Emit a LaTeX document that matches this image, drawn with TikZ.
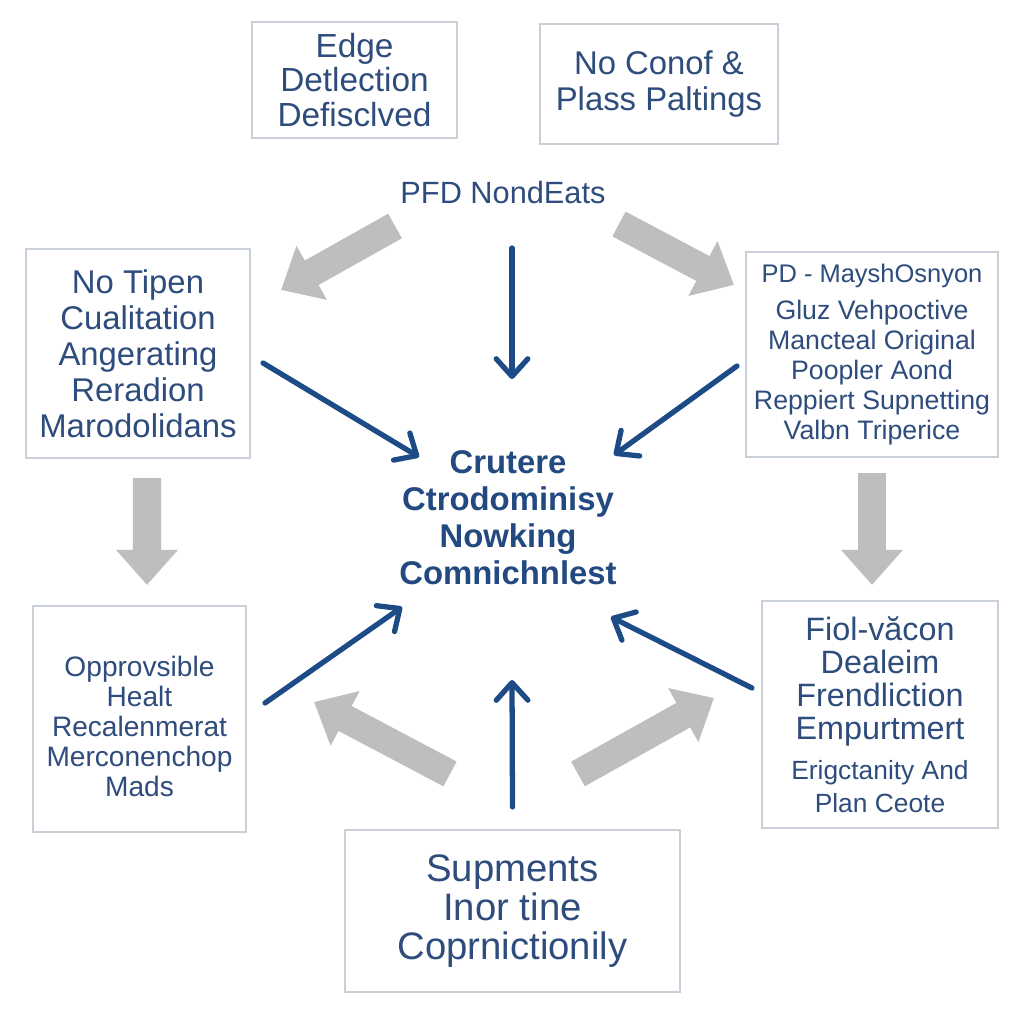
\documentclass[tikz,border=0pt]{standalone}
\usepackage{fontspec}
\setmainfont{Liberation Sans}
\usepackage{tikz}
\usetikzlibrary{arrows.meta,calc}
\usepackage{xcolor}
\definecolor{txtblue}{HTML}{2E4C7C}
\definecolor{midblue}{HTML}{234A80}
\definecolor{arrblue}{HTML}{1D4B86}
\definecolor{boxline}{HTML}{C9D0D9}
\definecolor{arrgrey}{HTML}{BEBEBE}

\begin{document}
\begin{tikzpicture}[x=0.02cm,y=-0.02cm,
	box/.style={draw=boxline,line width=1.2pt,fill=white,text=txtblue,align=center,inner sep=0pt},
	plaintxt/.style={text=txtblue,align=center,inner sep=0pt},
	bluearr/.style={draw=arrblue,line width=3pt,line cap=round,line join=round,-{Straight Barb[length=10pt,width=18pt,round]}},
	greyarr/.style={draw=arrgrey,line width=16pt,-{Triangle[length=20pt,width=34pt]}}]
	\fill[white] (0,0) rectangle (1024,1024);
	\useasboundingbox (0,0) rectangle (1024,1024);
	\node[box,minimum width=4.1cm,minimum height=2.32cm,font=\fontsize{19}{19.6}\selectfont] (edge) at (354.5,80) {Edge\\Detlection\\Defisclved};
	\node[box,minimum width=4.76cm,minimum height=2.4cm,font=\fontsize{18.7}{20}\selectfont] (conof) at (659,84) {No Conof \&\\Plass Paltings};
	\node[plaintxt,font=\fontsize{17.5}{19}\selectfont] (pfd) at (503,193) {PFD NondEats};
	\node[box,minimum width=4.48cm,minimum height=4.18cm,font=\fontsize{18.7}{20.5}\selectfont] (tipen) at (138,353.5) {No Tipen\\Cualitation\\Angerating\\Reradion\\Marodolidans};
	\node[box,minimum width=5.04cm,minimum height=4.1cm,font=\fontsize{15.2}{17}\selectfont] (maysh) at (872,354.5) {{\fontsize{14.5}{17}\selectfont PD - MayshOsnyon}\\[4pt]Gluz Vehpoctive\\Mancteal Original\\Poopler Aond\\Reppiert Supnetting\\Valbn Triperice};
	\node[plaintxt,text=midblue,font=\bfseries\fontsize{18.7}{21}\selectfont] (crux) at (508,518) {Crutere\\Ctrodominisy\\Nowking\\Comnichnlest};
	\node[box,minimum width=4.26cm,minimum height=4.52cm,font=\fontsize{16}{17}\selectfont] (oppr) at (139.5,719) {\rule{0pt}{20pt}Opprovsible\\Healt\\Recalenmerat\\Merconenchop\\Mads};
	\node[box,minimum width=4.72cm,minimum height=4.54cm,font=\fontsize{18.4}{18.8}\selectfont] (fiol) at (880,714.5) {Fiol-văcon\\Dealeim\\Frendliction\\Empurtmert\\[4pt]{\fontsize{15}{15.5}\selectfont Erigctanity And}\\{\fontsize{15}{15.5}\selectfont Plan Ceote}};
	\node[box,minimum width=6.7cm,minimum height=3.24cm,font=\fontsize{21.8}{22.2}\selectfont] (supm) at (512.5,911) {Supments\\Inor tine\\Coprnictionily};
	\draw[greyarr] ($(pfd)+(-108,33)$) -- ($(tipen.north east)+(30,42)$);
	\draw[greyarr] ($(pfd)+(116,31)$) -- ($(maysh.north west)+(-11,34)$);
	\draw[greyarr] ($(tipen.south)+(9,19)$) -- ($(oppr.north)+(7.5,-20)$);
	\draw[greyarr] ($(maysh.south)+(0,15)$) -- ($(fiol.north)+(-8,-15)$);
	\draw[greyarr] ($(supm.north)+(-62.5,-55)$) -- ($(oppr.east)+(67,-17)$);
	\draw[greyarr] ($(supm.north)+(65.5,-55)$) -- ($(fiol.west)+(-47,-16.5)$);
	\draw[bluearr] ($(pfd)+(9,55)$) -- ($(crux)+(4,-139)$);
	\draw[bluearr] ($(tipen.east)+(12,9.5)$) -- ($(crux)+(-89,-61)$);
	\draw[bluearr] ($(maysh.west)+(-8,11.5)$) -- ($(crux)+(106,-63)$);
	\draw[bluearr] ($(oppr.east)+(18,-16)$) -- ($(crux)+(-106,89)$);
	\draw[bluearr] ($(fiol.west)+(-9,-26.5)$) -- ($(crux)+(103,99)$);
	\draw[bluearr] ($(supm.north)+(0,-22)$) -- ($(crux)+(4,162)$);
\end{tikzpicture}
\end{document}
